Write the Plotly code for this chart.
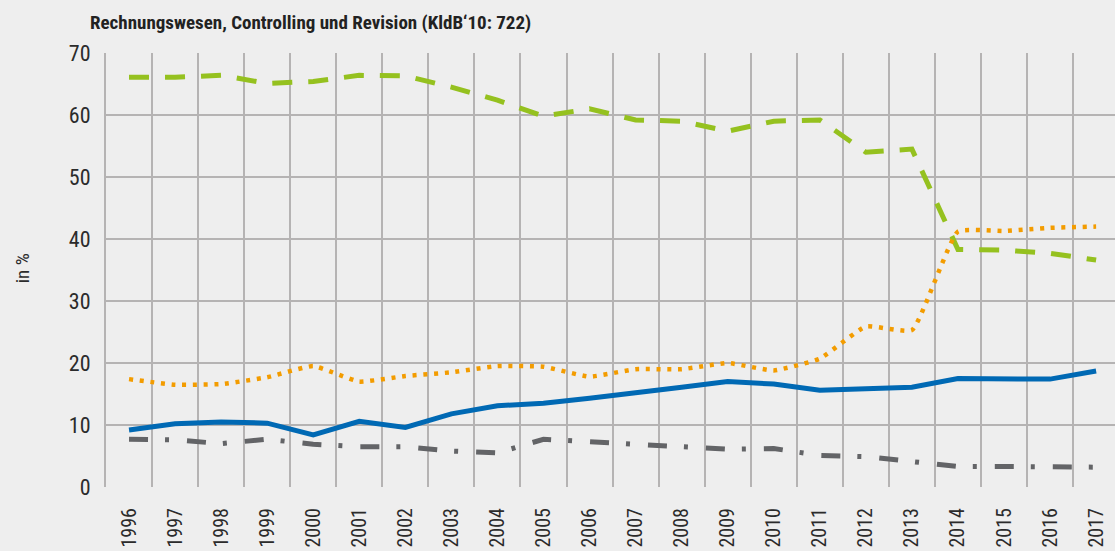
import plotly.graph_objects as go

years = [str(y) for y in range(1996, 2018)]

green = [66.1, 66.1, 66.4, 65.1, 65.4, 66.4, 66.3, 64.5, 62.4, 59.8, 61.0,
         59.2, 59.0, 57.4, 59.0, 59.2, 54.0, 54.5, 38.3, 38.2, 37.7, 36.6]
orange = [17.4, 16.5, 16.6, 17.7, 19.5, 17.0, 17.9, 18.5, 19.5, 19.4, 17.8,
          19.0, 19.0, 20.0, 18.8, 20.7, 25.9, 25.3, 41.2, 41.3, 41.8, 42.0]
blue = [9.2, 10.2, 10.5, 10.3, 8.4, 10.6, 9.6, 11.8, 13.1, 13.5, 14.3,
        15.3, 16.1, 17.0, 16.6, 15.6, 15.9, 16.1, 17.5, 17.5, 17.4, 18.7]
gray = [7.7, 7.6, 7.0, 7.7, 6.9, 6.5, 6.5, 5.8, 5.5, 7.7, 7.3,
        6.9, 6.5, 6.1, 6.2, 5.1, 4.9, 4.2, 3.3, 3.3, 3.3, 3.2]

y_ticks = [0, 10, 20, 30, 40, 50, 60, 70]
title_text = "Rechnungswesen, Controlling und Revision (KldB‘10: 722)"

FONT = "Roboto Condensed, Roboto, sans-serif"

fig = go.Figure()
fig.add_trace(go.Scatter(x=years, y=green, mode="lines",
                         line=dict(color="#95c11f", width=5, dash="20px,16px")))
fig.add_trace(go.Scatter(x=years, y=orange, mode="lines",
                         line=dict(color="#f39c00", width=4.5, dash="4px,6.7px",
                                   shape="spline", smoothing=0.4)))
fig.add_trace(go.Scatter(x=years, y=blue, mode="lines",
                         line=dict(color="#0069b4", width=5)))
fig.add_trace(go.Scatter(x=years, y=gray, mode="lines",
                         line=dict(color="#636467", width=5, dash="19px,17px,4px,18px")))

fig.update_layout(
    width=1115, height=551,
    margin=dict(l=106, r=0, t=53, b=64),
    paper_bgcolor="#eeeeee", plot_bgcolor="#eeeeee",
    showlegend=False,
    font=dict(family=FONT, color="#2b2b2b", size=22),
    title=dict(text="<b>" + title_text + "</b>", x=90 / 1115, xanchor="left",
               xref="container", y=1 - 22 / 551, yanchor="middle",
               yref="container",
               font=dict(family=FONT, size=19, color="#222222")),
    xaxis=dict(type="category", range=[-0.5, 21.41], tickson="boundaries",
               showgrid=True, gridcolor="#b5b3b3", gridwidth=2,
               tickangle=-90, ticks="", ticklabelstandoff=16,
               showline=False, zeroline=False, automargin=False,
               tickfont=dict(size=20)),
    yaxis=dict(range=[0, 70], tickvals=y_ticks, showgrid=True,
               gridcolor="#b5b3b3", gridwidth=2, zeroline=False,
               ticks="", ticklabelstandoff=9, showline=True,
               linecolor="#b5b3b3", linewidth=2, automargin=False,
               tickfont=dict(size=22)),
    annotations=[dict(text="in %", xref="paper", yref="paper",
                      x=(22 - 106) / 1009, y=0.504, xanchor="center",
                      yanchor="middle", textangle=-90, showarrow=False,
                      font=dict(family=FONT, size=19, color="#2b2b2b"))],
)

fig.write_html("out.html",
               config={"displayModeBar": False, "staticPlot": True},
               post_script="document.body.style.margin='0';"
                           "document.body.style.overflow='hidden';")
